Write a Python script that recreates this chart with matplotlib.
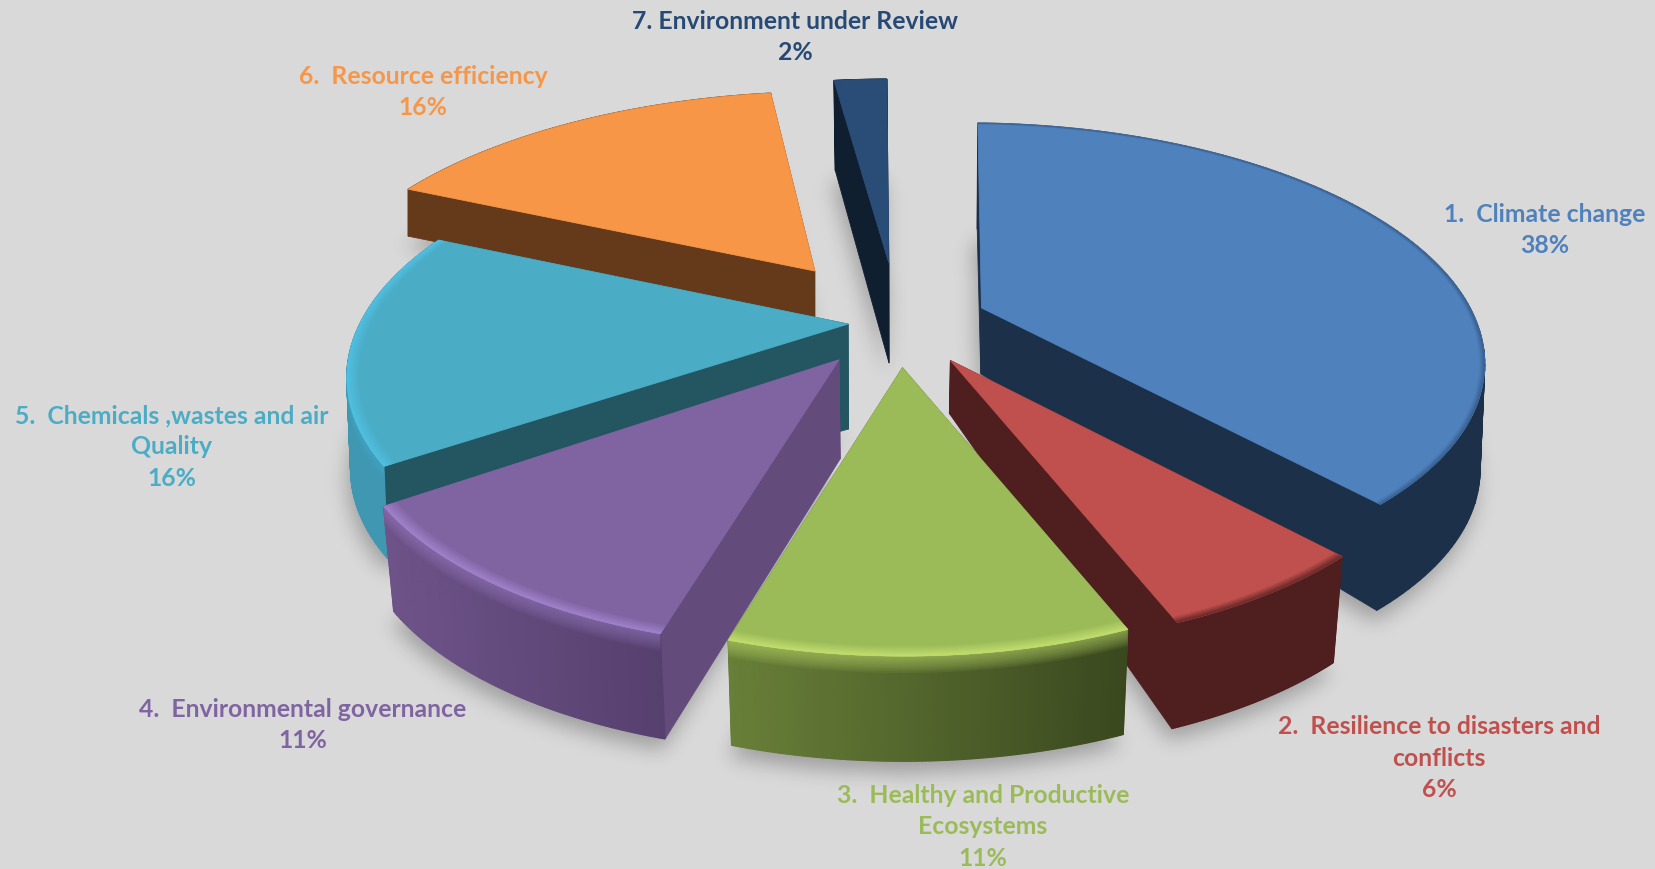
import numpy as np
import matplotlib
matplotlib.use("Agg")
import matplotlib.pyplot as plt
from matplotlib.patches import Polygon
from matplotlib.path import Path
from matplotlib.colors import to_rgb

# Share of each sub-programme, in percent, clockwise from the top
labels = [
    "1.  Climate change",
    "2.  Resilience to disasters and\nconflicts",
    "3.  Healthy and Productive\nEcosystems",
    "4.  Environmental governance",
    "5.  Chemicals ,wastes and air\nQuality",
    "6.  Resource efficiency",
    "7. Environment under Review",
]
shares = [38, 6, 11, 11, 16, 16, 2]

# Slice styling
top_colors = ["#4F81BD", "#C0504D", "#9BBB59", "#8064A2", "#4BACC6", "#F79646", "#2A4D78"]
text_colors = ["#4F81BD", "#C0504D", "#9BBB59", "#8064A2", "#4BACC6", "#F79646", "#264A75"]
wall_colors = ["#1C3149", "#4F1E1E", "#4F6329", "#634C7C", "#235661", "#653A1B", "#101F30"]
rim_colors = ["#3A6293", "#6E2B2A", "#BEDB6C", "#9D80C8", "#4FBEDF", "#F79646", "#2A4D78"]
rim_widths = [0.010, 0.016, 0.026, 0.024, 0.022, 0.0, 0.0]
bevel_alpha = [0.0, 0.0, 0.08, 0.07, 0.05, 0.0, 0.0]
arc_left = ["#1C3149", "#4F1E1E", "#687F38", "#6E5389", "#3F97B2", "#653A1B", "#101F30"]
arc_right = ["#1C3149", "#4F1E1E", "#3A481F", "#56406E", "#3F97B2", "#653A1B", "#101F30"]
explode = [0.18, 0.19, 0.19, 0.195, 0.10, 0.29, 0.27]
twist = [4.5, 3.2, 2.2, 1.0, 1.5, 2.0, 2.5]
radius = [0.99, 0.925, 0.92, 0.93, 0.975, 1.03, 1.08]
depth_inner = [66, 53, 100, 99, 105, 47, 100]
depth_outer = [106, 106, 105, 105, 92, 47, 90]
bottom_shrink = [0.992, 0.98, 0.98, 0.98, 0.993, 1.0, 0.98]
draw_order = [6, 5, 4, 0, 1, 3, 2]

# Label anchors in figure pixels
label_x = [1545, 1439, 983, 303, 172, 423, 795]
label_y = [230, 758, 827, 725, 447, 92, 37]

# Camera
START_DEG = -3.0
CX, CY = 898.0, 322.0
A, B, K = 500.0, 231.0, 0.21
W, H = 1656, 869


def project(x, v):
    s = 1.0 / (1.0 - K * v)
    return CX + A * x * s, CY + B * v * s


def wedge(i, t0, t1, n=120):
    """Apex, outer arc, world apex and arc angles for slice i."""
    mid = np.radians(0.5 * (t0 + t1))
    ax0, av0 = explode[i] * np.sin(mid), -explode[i] * np.cos(mid)
    th = np.radians(np.linspace(t0, t1, n))
    arc = np.column_stack(project(ax0 + radius[i] * np.sin(th),
                                  av0 - radius[i] * np.cos(th)))
    apex = np.array(project(ax0, av0))
    return apex, arc, (ax0, av0), th


def drop(p, h, shrink):
    p = np.atleast_2d(p).astype(float)
    out = p.copy()
    out[:, 0] = CX + (p[:, 0] - CX) * shrink
    out[:, 1] = p[:, 1] + h
    return out


def mix(c0, c1, t):
    return tuple((1 - t) * np.array(to_rgb(c0)) + t * np.array(to_rgb(c1)))


def blur(img, sigma):
    r = int(3 * sigma)
    kernel = np.exp(-0.5 * (np.arange(-r, r + 1) / sigma) ** 2)
    kernel /= kernel.sum()
    img = np.apply_along_axis(lambda m: np.convolve(m, kernel, mode="same"), 0, img)
    return np.apply_along_axis(lambda m: np.convolve(m, kernel, mode="same"), 1, img)


fig = plt.figure(figsize=(16.56, 8.69), dpi=100, facecolor="#D9D9D9")
ax = fig.add_axes([0, 0, 1, 1])
ax.set_xlim(0, W)
ax.set_ylim(H, 0)
ax.axis("off")

spans = 3.6 * np.array(shares, dtype=float)
starts = START_DEG + np.array(twist) + np.concatenate([[0], np.cumsum(spans)[:-1]])
geom = {i: wedge(i, starts[i], starts[i] + spans[i]) for i in range(len(shares))}

# Soft ground shadow: rasterise each underside, blur it, lay it under the slices
STEP = 2
gx, gy = np.meshgrid(np.arange(0, W, STEP) + 1.0, np.arange(0, H, STEP) + 1.0)
grid = np.column_stack([gx.ravel(), gy.ravel()])
shadow = np.zeros(gx.shape)
for i in draw_order:
    apex, arc, _, _ = geom[i]
    under = np.vstack([drop(apex, depth_inner[i], bottom_shrink[i]),
                       drop(arc, depth_outer[i], bottom_shrink[i])])
    under[:, 0] -= 3
    under[:, 1] += 12
    shadow = np.maximum(shadow, Path(under).contains_points(grid).reshape(gx.shape).astype(float))
shadow = blur(shadow, 5.0)
rgba = np.zeros(gx.shape + (4,))
rgba[..., 3] = 0.27 * shadow
ax.imshow(rgba, extent=(0, W, H, 0), interpolation="bilinear", aspect="auto", zorder=1)
ax.set_xlim(0, W)
ax.set_ylim(H, 0)

z = 2
for i in draw_order:
    apex, arc, (ax0, av0), th = geom[i]
    hi, ho, sh = depth_inner[i], depth_outer[i], bottom_shrink[i]
    # Flat walls on either side of the slice
    for edge in (arc[0], arc[-1]):
        wall = np.vstack([apex, edge, drop(edge, ho, sh), drop(apex, hi, sh)])
        ax.add_patch(Polygon(wall, closed=True, facecolor=wall_colors[i],
                             edgecolor=wall_colors[i], linewidth=0.6, zorder=z))
        z += 1
    # Curved outer wall swept as strips, shaded across its width
    low = drop(arc, ho, sh)
    xmin, xmax = arc[:, 0].min(), arc[:, 0].max()
    for j in range(len(arc) - 1):
        t = (0.5 * (arc[j, 0] + arc[j + 1, 0]) - xmin) / max(xmax - xmin, 1)
        col = mix(arc_left[i], arc_right[i], t)
        quad = np.vstack([arc[j], arc[j + 1], low[j + 1], low[j]])
        ax.add_patch(Polygon(quad, closed=True, facecolor=col, edgecolor=col,
                             linewidth=0.9, zorder=z))
    z += 1
    # Bevel fading out just below the rim
    if bevel_alpha[i] > 0:
        for frac in np.linspace(0.015, 0.16, 10):
            band = np.vstack([arc, (arc + (0, frac * ho))[::-1]])
            ax.add_patch(Polygon(band, closed=True, facecolor=rim_colors[i],
                                 edgecolor="none", alpha=bevel_alpha[i], zorder=z))
        z += 1
    # Upper face with a gradual rim toward the edge
    top = np.vstack([apex, arc])
    ax.add_patch(Polygon(top, closed=True, facecolor=top_colors[i],
                         edgecolor=top_colors[i], linewidth=0.6, zorder=z))
    z += 1
    for step in range(1, 7):
        w = rim_widths[i] * (1 - (step - 1) / 6)
        if w <= 0:
            continue
        inner = np.column_stack(project(ax0 + (radius[i] - w) * np.sin(th),
                                        av0 - (radius[i] - w) * np.cos(th)))
        ring = np.vstack([arc, inner[::-1]])
        col = mix(top_colors[i], rim_colors[i], step / 6)
        ax.add_patch(Polygon(ring, closed=True, facecolor=col, edgecolor="none", zorder=z))
        z += 1

for i, name in enumerate(labels):
    ax.text(label_x[i], label_y[i], f"{name}\n{shares[i]}%", color=text_colors[i],
            family="Lato", weight="bold", fontsize=17.8, ha="center", va="center",
            linespacing=1.45, zorder=z + 1)

fig.savefig("out.png", dpi=100, facecolor=fig.get_facecolor())
